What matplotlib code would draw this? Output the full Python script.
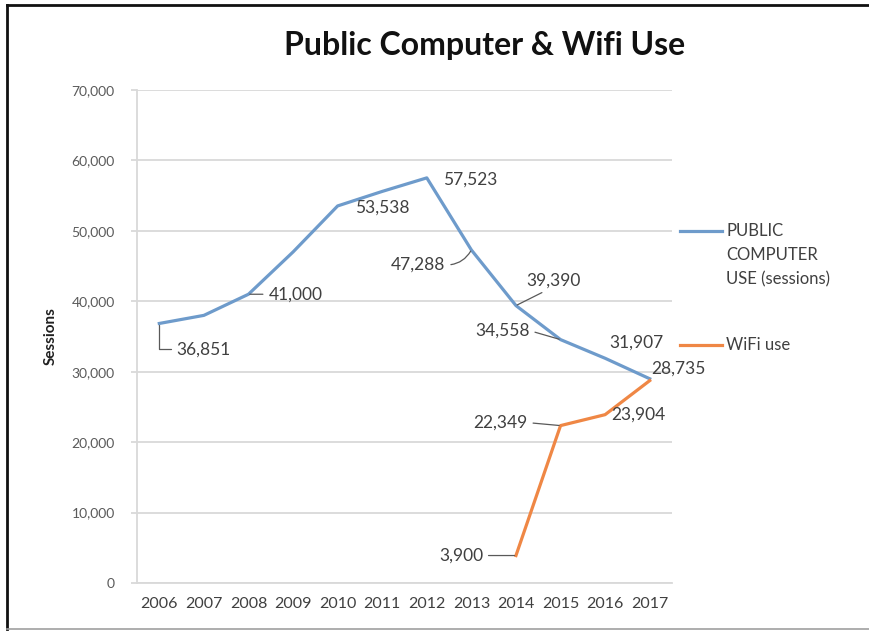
import numpy as np
import matplotlib
matplotlib.use("Agg")
import matplotlib.pyplot as plt
from matplotlib.lines import Line2D
from matplotlib.ticker import FuncFormatter

plt.rcParams['font.family'] = ['Lato', 'DejaVu Sans']

years = ['2006', '2007', '2008', '2009', '2010', '2011',
         '2012', '2013', '2014', '2015', '2016', '2017']
public_use = [36851, 38000, 41000, 47000, 53538, 55600,
              57523, 47288, 39390, 34558, 31907, 29000]
wifi_use = [np.nan] * 8 + [3900, 22349, 23904, 28735]

public_name = 'PUBLIC\nCOMPUTER\nUSE (sessions)'
wifi_name = 'WiFi use'

BLUE = '#6E9BCB'
ORANGE = '#EF8745'
GRID = '#D9D9D9'
TXT = '#404040'

W, H = 869, 632
fig = plt.figure(figsize=(W / 100, H / 100), dpi=100)
ax = fig.add_axes([137 / W, 1 - 583 / H, (672 - 137) / W, (583 - 90) / H])

x = np.arange(len(years))
ax.plot(x, public_use, color=BLUE, lw=2.3, solid_joinstyle='round')
ax.plot(x, wifi_use, color=ORANGE, lw=2.3, solid_joinstyle='round')

ax.set_xlim(-0.5, len(years) - 0.5)
ax.set_ylim(0, 70000)
ax.set_yticks(np.arange(0, 70001, 10000))
ax.yaxis.set_major_formatter(FuncFormatter(lambda v, p: f'{int(v):,}'))
ax.set_xticks(x)
ax.set_xticklabels(years)
ax.grid(axis='y', color=GRID, lw=1.3)
ax.set_axisbelow(True)
for s in ['top', 'right']:
    ax.spines[s].set_visible(False)
for s in ['left', 'bottom']:
    ax.spines[s].set_color(GRID)
    ax.spines[s].set_linewidth(1.3)
ax.tick_params(axis='y', length=4, color=GRID, width=1.3, pad=12,
               labelsize=10, labelcolor='#5A5A5A')
ax.tick_params(axis='x', length=0, pad=10, labelsize=11.5, labelcolor='#404040')
ax.set_ylabel('Sessions', fontsize=11, fontweight='bold', color='#202020', labelpad=10)

# data labels: (series, index, dx, dy, ha, leader connection, leader start)
labels = [
    (public_use, 0, 17, -26, 'left', 'angle,angleA=0,angleB=90,rad=0', (0, 0.5)),
    (public_use, 2, 20, 0, 'left', 'arc3', (0, 0.5)),
    (public_use, 4, 17, -2, 'left', None, None),
    (public_use, 6, 16, -2, 'left', None, None),
    (public_use, 7, -26, -15, 'right', 'arc3,rad=0.3', (1, 0.5)),
    (public_use, 8, 10, 25, 'left', 'arc3', (0.5, 0.1)),
    (public_use, 9, -31, 9, 'right', 'arc3', (1, 0.5)),
    (public_use, 10, 31, 16, 'center', None, None),
    (wifi_use, 11, 2, 12, 'left', None, None),
    (wifi_use, 10, 6, 0, 'left', None, None),
    (wifi_use, 9, -33, 3, 'right', 'arc3', (1, 0.5)),
    (wifi_use, 8, -33, 0, 'right', 'arc3', (1, 0.5)),
]
for series, i, dx, dy, ha, conn, rel in labels:
    v = series[i]
    kw = {}
    if conn is not None:
        kw['arrowprops'] = dict(arrowstyle='-', color='#595959', lw=0.9,
                                shrinkA=2, shrinkB=1, connectionstyle=conn,
                                relpos=rel)
    ax.annotate(f'{v:,}', xy=(i, v), xytext=(dx, dy), textcoords='offset pixels',
                ha=ha, va='center', fontsize=12.5, color=TXT,
                annotation_clip=False, **kw)

# legend at the right of the plot
fig.add_artist(Line2D([680 / W, 722 / W], [1 - 231 / H] * 2, color=BLUE, lw=2.3))
fig.text(726 / W, 1 - 223 / H, public_name, ha='left', va='top', fontsize=12,
         color=TXT, linespacing=1.62)
fig.add_artist(Line2D([680 / W, 722 / W], [1 - 345 / H] * 2, color=ORANGE, lw=2.3))
fig.text(726 / W, 1 - 345 / H, wifi_name, ha='left', va='center', fontsize=12,
         color=TXT)

fig.text(485 / W, 1 - 46 / H, 'Public Computer & Wifi Use', ha='center', va='center',
         fontsize=23, fontweight='bold', color='#111111')

# chart frame
fig.add_artist(Line2D([7 / W, 7 / W], [1 - 629 / H, 1 - 5 / H], color='#111111', lw=2))
fig.add_artist(Line2D([7 / W, 1.0], [1 - 5 / H, 1 - 5 / H], color='#111111', lw=2))
fig.add_artist(Line2D([7 / W, 1.0], [1 - 629 / H, 1 - 629 / H], color='#A0A0A0', lw=1.2))

fig.savefig('out.png', dpi=100)
